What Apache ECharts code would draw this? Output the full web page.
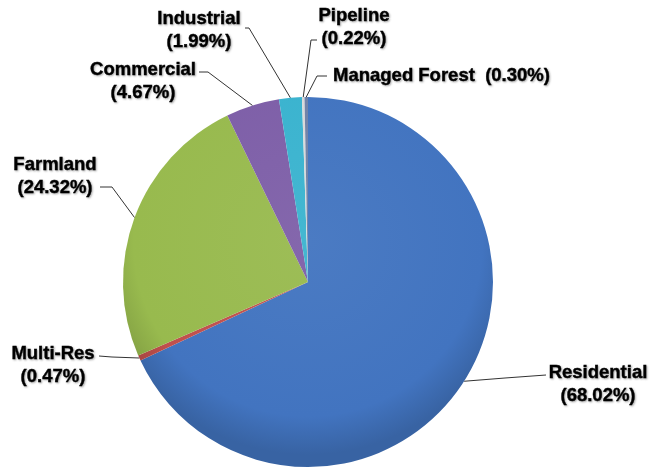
<!DOCTYPE html>
<html>
<head>
<meta charset="utf-8">
<script src="https://cdn.jsdelivr.net/npm/echarts@6/dist/echarts.min.js"></script>
<style>html,body{margin:0;padding:0;background:#fff;}#c{width:651px;height:470px;}</style>
</head>
<body>
<div id="c"></div>
<script>
const categories = ['Residential', 'Multi-Res', 'Farmland', 'Commercial', 'Industrial', 'Pipeline', 'Managed Forest'];
const values = [68.02, 0.47, 24.32, 4.67, 1.99, 0.22, 0.30];
const colors = ['#4274C0', '#C0504D', '#98BA4E', '#7E5FA8', '#3AB3CF', '#D9D9D9', '#6F82A8'];
const singleLine = [false, false, false, false, false, false, true];

// label placement (styling/layout only)
const labelPlace = [
  {x: 598, y: 384, align: 'center', elbow: [505, 378], end: [546, 375]},
  {x: 53, y: 365, align: 'center', elbow: [112, 357], end: [99, 356]},
  {x: 55, y: 176, align: 'center', elbow: [112, 187], end: [100, 187]},
  {x: 143, y: 81, align: 'center', elbow: [208, 72], end: [199, 72]},
  {x: 199, y: 30, align: 'center', elbow: [249, 28], end: [245, 28]},
  {x: 354, y: 27, align: 'center', elbow: [311, 40], end: [317, 40]},
  {x: 333, y: 76, align: 'left', elbow: [317, 76], end: [327, 76]}
];

const CX = 308, CY = 282, R = 185;

function shade(hex, amt) {
  const n = parseInt(hex.slice(1), 16);
  let r = (n >> 16) & 255, g = (n >> 8) & 255, b = n & 255;
  const f = v => Math.max(0, Math.min(255, Math.round(amt >= 0 ? v + (255 - v) * amt : v * (1 + amt))));
  return 'rgb(' + f(r) + ',' + f(g) + ',' + f(b) + ')';
}

const data = categories.map((name, i) => ({
  name: name,
  value: values[i],
  itemStyle: {
    color: {
      type: 'radial', x: CX, y: CY - 40, r: R * 1.15, global: true,
      colorStops: [
        {offset: 0, color: shade(colors[i], 0.05)},
        {offset: 0.82, color: colors[i]},
        {offset: 1, color: shade(colors[i], -0.15)}
      ]
    }
  }
}));

const chart = echarts.init(document.getElementById('c'), null, {renderer: 'canvas'});
chart.setOption({
  backgroundColor: '#ffffff',
  animation: false,
  series: [{
    type: 'pie',
    center: [CX, CY],
    radius: R,
    startAngle: 90,
    clockwise: true,
    avoidLabelOverlap: false,
    minShowLabelAngle: 0,
    data: data,
    itemStyle: {borderWidth: 0},
    label: {
      show: true,
      position: 'outside',
      fontFamily: '"Liberation Sans", Arial, sans-serif',
      fontWeight: 'bold',
      fontSize: 18.5,
      lineHeight: 23,
      color: '#000',
      textBorderColor: '#000',
      textBorderWidth: 0.4,
      textShadowColor: 'rgba(0,0,0,0.3)',
      textShadowBlur: 2,
      textShadowOffsetX: 1,
      textShadowOffsetY: 1,
      formatter: function (p) {
        const v = values[p.dataIndex].toFixed(2);
        return singleLine[p.dataIndex] ? p.name + '  (' + v + '%)' : p.name + '\n(' + v + '%)';
      }
    },
    labelLine: {
      show: true,
      lineStyle: {color: '#333', width: 1}
    },
    labelLayout: function (p) {
      const L = labelPlace[p.dataIndex];
      let edge;
      if (p.labelLinePoints && p.labelLinePoints[0]) {
        edge = p.labelLinePoints[0];
      } else {
        let before = 0;
        const total = values.reduce((a, b) => a + b, 0);
        for (let k = 0; k < p.dataIndex; k++) before += values[k];
        const mid = (before + values[p.dataIndex] / 2) / total * Math.PI * 2;
        edge = [CX + R * Math.sin(mid), CY - R * Math.cos(mid)];
      }
      return {
        x: L.x, y: L.y, align: L.align, verticalAlign: 'middle',
        labelLinePoints: [edge, L.elbow, L.end]
      };
    }
  }]
});
</script>
</body>
</html>
